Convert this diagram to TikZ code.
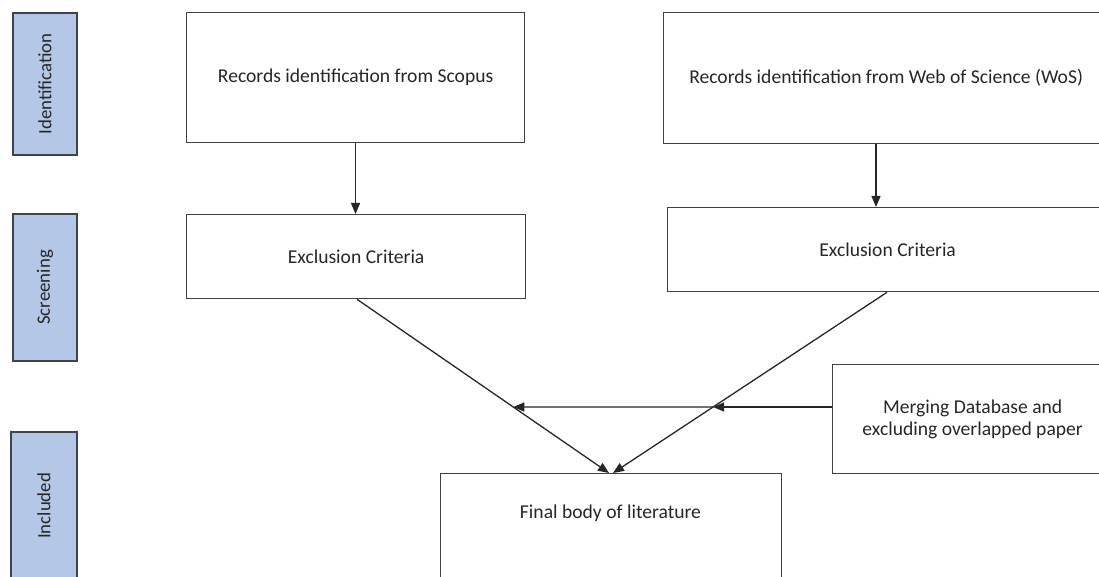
\documentclass[tikz,border=0pt]{standalone}
\usepackage{fontspec}
\setmainfont{Carlito}
\usetikzlibrary{arrows.meta}
\definecolor{phasefill}{HTML}{B4C7E7}
\definecolor{phaseline}{HTML}{3F444A}
\definecolor{boxline}{HTML}{404040}
\definecolor{txt}{HTML}{262626}
\begin{document}
\begin{tikzpicture}[x=1pt,y=-1pt,
  phase/.style={draw=phaseline, fill=phasefill, line width=1.8pt, anchor=north west,
    inner sep=0pt},
  phasetext/.style={rotate=90, text=txt, font=\fontsize{18.8}{22}\selectfont},
  box/.style={draw=boxline, line width=1.3pt, anchor=north west, inner sep=0pt,
    text=txt, align=center, font=\fontsize{19.6}{22}\selectfont},
  conn/.style={draw=black!85, line width=1.3pt},
  tip/.style={-{Triangle[length=11pt,width=9pt]}}
]
\useasboundingbox (0,0) rectangle (1099,577);
\clip (0,0) rectangle (1099,577);

% phase labels on the left
\node[phase, minimum width=64, minimum height=142] (pid) at (12,12) {};
\node[phasetext] (tid) at (pid.center) {Identification};
\node[phase, minimum width=64, minimum height=147] (psc) at (12,213) {};
\node[phasetext] (tsc) at (psc.center) {Screening};
\node[phase, minimum width=66, minimum height=160] (pin) at (10,431) {};
\node[phasetext] (tin) at ([yshift=6]pin.center) {Included};

% record sources
\node[box, minimum width=338, minimum height=130] (scopus) at (186,12)
  {Records identification from Scopus};
\node[box, minimum width=445, minimum height=131] (wos) at (663,12)
  {Records identification from Web of Science (WoS)};

% screening
\node[box, minimum width=339, minimum height=84] (excl) at (186,214) {Exclusion Criteria};
\node[box, minimum width=440, minimum height=84] (exc2) at (667,207) {Exclusion Criteria};

% merging and final set
\node[box, minimum width=280, minimum height=109] (merge) at (832,364)
  {Merging Database and\\excluding overlapped paper};
\node[box, minimum width=341, minimum height=140] (final) at (440,473) {};
\node[text=txt, font=\fontsize{19.6}{22}\selectfont] (finaltext) at (610.5,513) {Final body of literature};

% connector end points
\coordinate (s1) at (scopus.south -| 355.5,0);
\coordinate (e1) at (excl.north -| 355.5,0);
\coordinate (s2) at (wos.south -| 876,0);
\coordinate (e2) at (exc2.north -| 876,0);
\coordinate (d1) at (excl.south -| 357,0);
\coordinate (d2) at (exc2.south -| 887,0);
\coordinate (f1) at (final.north -| 609,0);
\coordinate (f2) at (final.north -| 613,0);
\coordinate (m0) at (merge.west |- 0,407);
\coordinate (x2) at (intersection of d2--f2 and m0--{(0,407)});
\coordinate (x1) at (intersection of d1--f1 and m0--{(0,407)});

\draw[conn, tip] (s1) -- (e1);
\draw[conn, tip] (s2) -- (e2);
\draw[conn, tip] (d1) -- (f1);
\draw[conn, tip] (d2) -- (f2);
\draw[conn, tip] (m0) -- (x2);
\draw[conn, tip] (x2) -- (x1);
\end{tikzpicture}
\end{document}
